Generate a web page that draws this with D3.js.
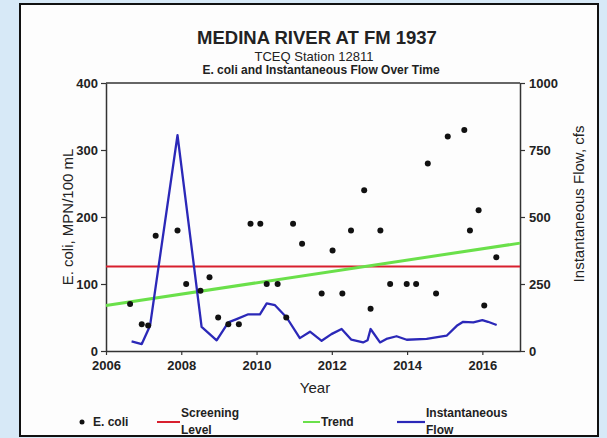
<!DOCTYPE html>
<html><head><meta charset="utf-8">
<script src="https://cdn.jsdelivr.net/npm/d3@7"></script>
<style>
html,body{margin:0;padding:0;background:#d7e9f7;}
svg{display:block;}
text{font-family:"Liberation Sans",Arial,sans-serif;fill:#222;}
</style></head><body>
<svg id="chart" width="607" height="438"></svg>
<script>
// ---- data ----
const xTicks = [2006, 2008, 2010, 2012, 2014, 2016];
const leftTicks = [0, 100, 200, 300, 400];
const rightTicks = [0, 250, 500, 750, 1000];
const ecoliYears = [2006.64, 2006.95, 2007.12, 2007.32, 2007.90, 2008.13, 2008.51, 2008.75, 2008.98, 2009.25, 2009.53, 2009.84, 2010.10, 2010.27, 2010.56, 2010.79, 2010.97, 2011.21, 2011.73, 2012.02, 2012.28, 2012.51, 2012.86, 2013.03, 2013.29, 2013.55, 2013.99, 2014.24, 2014.55, 2014.77, 2015.08, 2015.52, 2015.67, 2015.90, 2016.05, 2016.37];
const ecoliValues = [70, 40, 38, 172, 180, 100, 90, 110, 50, 40, 40, 190, 190, 100, 100, 50, 190, 160, 86, 150, 86, 180, 240, 63, 180, 100, 100, 100, 280, 86, 320, 330, 180, 210, 68, 140];
const flowYears = [2006.68, 2006.95, 2007.17, 2007.90, 2008.54, 2008.94, 2009.25, 2009.47, 2009.78, 2010.09, 2010.27, 2010.49, 2010.80, 2011.15, 2011.42, 2011.73, 2011.99, 2012.26, 2012.52, 2012.83, 2012.95, 2013.03, 2013.28, 2013.45, 2013.72, 2013.99, 2014.52, 2015.05, 2015.32, 2015.49, 2015.76, 2016.00, 2016.15, 2016.38];
const flowValues = [36, 26, 94, 805, 90, 40, 107, 119, 137, 137, 178, 171, 125, 48, 72, 38, 63, 82, 42, 32, 40, 82, 32, 45, 55, 42, 45, 57, 94, 109, 107, 115, 109, 97];
const screeningLevel = 126;
const trendYears = [2006, 2017];
const trendValues = [68, 161];

const svg = d3.select("#chart");
// panel
svg.append("rect").attr("x", 20).attr("y", 4).attr("width", 578).attr("height", 432)
  .attr("fill", "#fdfdfd").attr("stroke", "#111").attr("stroke-width", 2);

const L = 106, R = 520, T = 83, B = 351;
const x = d3.scaleLinear().domain([2006, 2017]).range([L, R]);
const yL = d3.scaleLinear().domain([0, 400]).range([B, T]);
const yR = d3.scaleLinear().domain([0, 1000]).range([B, T]);

// titles
svg.append("text").attr("x", 317).attr("y", 44).attr("text-anchor", "middle")
  .attr("font-size", 18.5).attr("font-weight", "bold").attr("fill", "#111").text("MEDINA RIVER AT FM 1937");
svg.append("text").attr("x", 314).attr("y", 60.5).attr("text-anchor", "middle")
  .attr("font-size", 13).text("TCEQ Station 12811");
svg.append("text").attr("x", 321).attr("y", 74).attr("text-anchor", "middle")
  .attr("font-size", 12).attr("font-weight", "bold").text("E. coli and Instantaneous Flow Over Time");

// frame top line
svg.append("line").attr("x1", L).attr("x2", R).attr("y1", T).attr("y2", T)
  .attr("stroke", "#333").attr("stroke-width", 1.5);

function styleAxis(g) {
  g.selectAll(".domain").attr("stroke", "#333").attr("stroke-width", 1.5);
  g.selectAll(".tick line").attr("stroke", "#333").attr("stroke-width", 1.2);
  g.selectAll(".tick text").attr("font-family", "Liberation Sans, Arial, sans-serif")
    .attr("font-size", 13).attr("font-weight", "bold").attr("fill", "#333");
}

svg.append("g").attr("transform", `translate(${L},0)`)
  .call(d3.axisLeft(yL).tickValues(leftTicks).tickFormat(d3.format("d")).tickSize(5).tickPadding(3).tickSizeOuter(0))
  .call(styleAxis);
svg.append("g").attr("transform", `translate(${R},0)`)
  .call(d3.axisRight(yR).tickValues(rightTicks).tickFormat(d3.format("d")).tickSize(5).tickPadding(4).tickSizeOuter(0))
  .call(styleAxis);
svg.append("g").attr("transform", `translate(0,${B})`)
  .call(d3.axisBottom(x).tickValues(xTicks).tickFormat(d3.format("d")).tickSize(4).tickPadding(6).tickSizeOuter(0))
  .call(styleAxis);

// axis titles
svg.append("text").attr("transform", "translate(73,217) rotate(-90)").attr("text-anchor", "middle")
  .attr("font-size", 15).attr("fill", "#222").text("E. coli, MPN/100 mL");
svg.append("text").attr("transform", "translate(584,204) rotate(-90)").attr("text-anchor", "middle")
  .attr("font-size", 15).attr("fill", "#222").text("Instantaneous Flow, cfs");
svg.append("text").attr("x", 315).attr("y", 393).attr("text-anchor", "middle")
  .attr("font-size", 15).text("Year");

// screening level
svg.append("line").attr("x1", x(2006)).attr("x2", x(2017))
  .attr("y1", yL(screeningLevel)).attr("y2", yL(screeningLevel))
  .attr("stroke", "#d8202e").attr("stroke-width", 2);
// trend
svg.append("path").datum(trendYears.map((d, i) => [d, trendValues[i]]))
  .attr("d", d3.line().x(d => x(d[0])).y(d => yL(d[1])))
  .attr("fill", "none").attr("stroke", "#6ae04a").attr("stroke-width", 3);
// flow
svg.append("path").datum(flowYears.map((d, i) => [d, flowValues[i]]))
  .attr("d", d3.line().x(d => x(d[0])).y(d => yR(d[1])))
  .attr("fill", "none").attr("stroke", "#2b28b8").attr("stroke-width", 2.3).attr("stroke-linejoin", "round");
// points
svg.append("g").selectAll("circle").data(ecoliYears.map((d, i) => [d, ecoliValues[i]]))
  .join("circle").attr("cx", d => x(d[0])).attr("cy", d => yL(d[1])).attr("r", 3).attr("fill", "#111");

// legend
const lg = svg.append("g");
lg.append("circle").attr("cx", 82).attr("cy", 422).attr("r", 2.5).attr("fill", "#111");
lg.append("text").attr("x", 93).attr("y", 426).attr("font-size", 12).attr("font-weight", "bold").attr("fill", "#333").text("E. coli");
lg.append("line").attr("x1", 157).attr("x2", 180).attr("y1", 422).attr("y2", 422).attr("stroke", "#d8202e").attr("stroke-width", 2);
lg.append("text").attr("x", 181).attr("y", 417).attr("font-size", 12).attr("font-weight", "bold").attr("fill", "#333").text("Screening");
lg.append("text").attr("x", 181).attr("y", 434).attr("font-size", 12).attr("font-weight", "bold").attr("fill", "#333").text("Level");
lg.append("line").attr("x1", 303).attr("x2", 320).attr("y1", 422).attr("y2", 422).attr("stroke", "#6ae04a").attr("stroke-width", 2);
lg.append("text").attr("x", 321).attr("y", 426).attr("font-size", 12).attr("font-weight", "bold").attr("fill", "#333").text("Trend");
lg.append("line").attr("x1", 397).attr("x2", 425).attr("y1", 422).attr("y2", 422).attr("stroke", "#2b28b8").attr("stroke-width", 2.2);
lg.append("text").attr("x", 426).attr("y", 417).attr("font-size", 12).attr("font-weight", "bold").attr("fill", "#333").text("Instantaneous");
lg.append("text").attr("x", 426).attr("y", 434).attr("font-size", 12).attr("font-weight", "bold").attr("fill", "#333").text("Flow");
</script>
</body></html>
